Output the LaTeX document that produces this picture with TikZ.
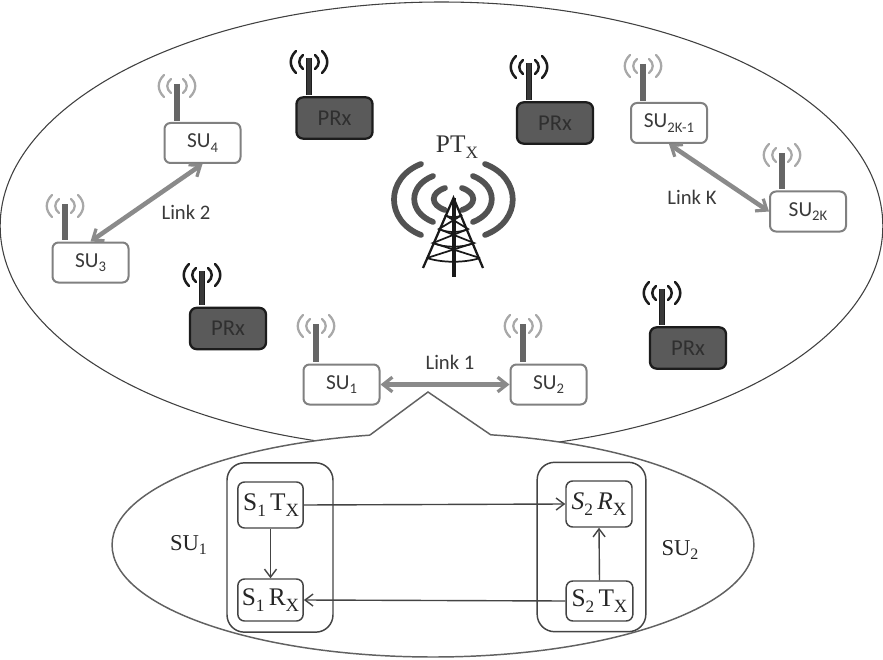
\documentclass[tikz,border=0pt]{standalone}
\usepackage{fontspec}
\setmainfont{Liberation Serif}
\newfontfamily\cali{Carlito}
\usetikzlibrary{arrows.meta}
\definecolor{prxfill}{HTML}{5A5A5A}
\definecolor{prxline}{HTML}{1C1C1C}
\definecolor{suline}{HTML}{808080}
\definecolor{suant}{HTML}{666666}
\definecolor{linkcol}{HTML}{8A8A8A}
\definecolor{wavesu}{HTML}{A8A8A8}
\definecolor{txt}{HTML}{3A3A3A}
\definecolor{inner}{HTML}{444444}
\newcommand{\lowsub}[2]{\raisebox{-.22em}{\fontsize{#1}{#1}\selectfont #2}}
\tikzset{
  subox/.style={draw=suline,line width=1.5pt,rounded corners=4.5pt,fill=white,minimum width=57pt,minimum height=30pt,inner sep=0pt,font=\cali\fontsize{16}{16}\selectfont,text=txt},
  prxbox/.style={draw=prxline,line width=1.7pt,rounded corners=5pt,fill=prxfill,minimum width=57pt,minimum height=31pt,inner sep=0pt,font=\cali\fontsize{17}{17}\selectfont,text=prxline!70!prxfill},
  suant/.style={line width=4.6pt,draw=suant,shorten >=1pt},
  prxant/.style={line width=4.8pt,draw=prxline,shorten >=1pt},
  prxantin/.style={line width=2.4pt,draw=prxfill!120,shorten >=1pt},
  suwave/.style={line width=1.7pt,draw=wavesu,line cap=round},
  prxwave/.style={line width=1.9pt,draw=prxline,line cap=round},
  towerwave/.style={line width=4.3pt,draw=black!68,line cap=round},
  towerline/.style={line width=1.3pt,draw=black!90},
  linkarrow/.style={line width=3.4pt,draw=linkcol,{Straight Barb[length=7pt,width=11pt,line width=2.4pt]}-{Straight Barb[length=7pt,width=11pt,line width=2.4pt]}},
  linklabel/.style={font=\cali\fontsize{15.5}{15.5}\selectfont,text=txt,inner sep=0pt},
  outerbox/.style={draw=inner,line width=1.1pt,rounded corners=13pt,minimum width=#1,minimum height=127pt,inner sep=0pt},
  innerbox/.style={draw=inner,line width=1.1pt,rounded corners=5pt,fill=white,inner sep=0pt,font=\fontsize{19}{19}\selectfont,text=black!85},
  sublabel/.style={font=\fontsize{17}{17}\selectfont,text=black!85,inner sep=0pt},
  flow/.style={draw=inner,line width=1.05pt,-{Straight Barb[length=6pt,width=9pt,line width=1.05pt]}}
}
\newcommand{\wavesat}[3]{%
  \draw[#3,shift={(#1,#2)}] (-6,-7) .. controls (-11,-3) and (-11,3) .. (-6,7);
  \draw[#3,shift={(#1,#2)}] (6,-7) .. controls (11,-3) and (11,3) .. (6,7);
  \draw[#3,shift={(#1,#2)}] (-13,-11) .. controls (-20,-4) and (-20,4) .. (-13,11);
  \draw[#3,shift={(#1,#2)}] (13,-11) .. controls (20,-4) and (20,4) .. (13,11);
}
% name, cx, cy, antenna x, antenna top y, label
\newcommand{\sudev}[6]{%
  \node[subox] (#1) at (#2,#3) {#6};
  \coordinate (#1top) at (#4,#5);
  \draw[suant] (#1top) -- (#1top |- #1.north);
  \wavesat{#4}{#5+2}{suwave}
}
\newcommand{\prxdev}[6]{%
  \node[prxbox] (#1) at (#2,#3) {#6};
  \coordinate (#1top) at (#4,#5);
  \draw[prxant] (#1top) -- (#1top |- #1.north);
  \draw[prxantin] (#1top) -- (#1top |- #1.north);
  \wavesat{#4}{#5+4}{prxwave}
}
\begin{document}
\begin{tikzpicture}[x=0.75pt,y=-0.75pt]
\useasboundingbox[fill=white] (0,0) rectangle (883,660);
% big cell and call-out
\draw[draw=black!75,line width=.8pt] (441.5,226) ellipse [x radius=331pt,y radius=168pt];
\draw[draw=black!62,line width=1.1pt,fill=white] (433,545) ellipse [x radius=240.7pt,y radius=84pt];
\fill[white] (370,435) -- (428,392) -- (491,435) -- (491,441) -- (370,441) -- cycle;
\draw[draw=black!62,line width=1.1pt] (370,435) -- (428,392) -- (491,435);

% secondary users
\sudev{suone}{341.5}{384.5}{316}{324}{SU\lowsub{11}{1}}
\sudev{sutwo}{548.5}{384.5}{523}{324}{SU\lowsub{11}{2}}
\sudev{suthree}{90.5}{262.5}{65}{204}{SU\lowsub{11}{3}}
\sudev{sufour}{202.5}{143}{177}{84}{SU\lowsub{11}{4}}
\sudev{suk}{669}{123}{643}{64}{SU\lowsub{11}{2K-1}}
\sudev{sukk}{808}{211.5}{782}{153}{SU\lowsub{11}{2K}}

% primary receivers
\prxdev{prxa}{334.5}{118}{309}{58}{PRx}
\prxdev{prxb}{555}{123}{529}{63}{PRx}
\prxdev{prxc}{228}{328.5}{202}{271}{PRx}
\prxdev{prxd}{688}{348}{662}{289}{PRx}

% links
\draw[linkarrow] (suone.east) -- (sutwo.west);
\draw[linkarrow] (suthree.north) -- (sufour.south);
\draw[linkarrow] (suk.south) -- (sukk.west);
\node[linklabel] (la) at (450,362) {Link 1};
\node[linklabel] (lb) at (186,212) {Link 2};
\node[linklabel] (lc) at (692,197) {Link K};

% primary transmitter
\node[inner sep=0pt,font=\fontsize{19}{19}\selectfont,text=black!80] (pt) at (457,147) {PT\lowsub{13}{X}};
\coordinate (apex) at (453.5,198);
\coordinate (mastend) at (453.5,277);
\draw[towerwave] (445,188) .. controls (430,193) and (430,205) .. (445,210);
\draw[towerwave] (462,188) .. controls (477,193) and (477,205) .. (462,210);
\draw[towerwave] (433,176) .. controls (408,186) and (408,212) .. (433,222);
\draw[towerwave] (473,176) .. controls (498,186) and (498,212) .. (473,222);
\draw[towerwave] (421,164) .. controls (385,178) and (385,221) .. (421,235);
\draw[towerwave] (485,164) .. controls (522,178) and (522,221) .. (485,235);
\draw[towerline,line width=3pt] (apex) -- (mastend);
\draw[towerline,line width=1.7pt] (423,268) -- (apex) -- (483,268);
\draw[towerline] (445,215) .. controls (450,218) and (457,218) .. (462,215);
\draw[towerline] (439,229) .. controls (447,233) and (460,233) .. (468,229);
\draw[towerline] (433,243) .. controls (445,248) and (462,248) .. (474,243);
\draw[towerline] (427,258) .. controls (442,263) and (465,263) .. (480,258);
\draw[towerline] (445,215) -- (468,229) -- (433,243) -- (480,258);
\draw[towerline] (462,215) -- (439,229) -- (474,243) -- (427,258);

% call-out contents
\node[outerbox=79.5pt] (ga) at (280,547.5) {};
\node[outerbox=81.5pt] (gb) at (591.5,547) {};
\node[innerbox,minimum width=49pt,minimum height=34.5pt] (stx) at (270.5,505) {\hspace{1pt}S\lowsub{13}{1}\,T\lowsub{14}{X}};
\node[innerbox,minimum width=49pt,minimum height=31.5pt] (srx) at (270.5,600) {S\lowsub{13}{1}\,R\lowsub{14}{X}};
\node[innerbox,minimum width=49.5pt,minimum height=34.5pt] (rrx) at (599,504) {\textit{S}\lowsub{13}{2}\,\textit{R}\lowsub{14}{X}};
\node[innerbox,minimum width=50pt,minimum height=30pt] (rtx) at (599.5,601) {S\lowsub{13}{2}\,T\lowsub{14}{X}};
\draw[flow] (stx.east) -- (rrx.west);
\draw[flow] (rtx.west) -- (srx.east);
\draw[flow] (stx.south) -- (srx.north);
\draw[flow] (rtx.north) -- (rrx.south);
\node[sublabel] (lsa) at (188.5,545) {SU\lowsub{12}{1}};
\node[sublabel] (lsb) at (680,550) {SU\lowsub{12}{2}};
\end{tikzpicture}
\end{document}
